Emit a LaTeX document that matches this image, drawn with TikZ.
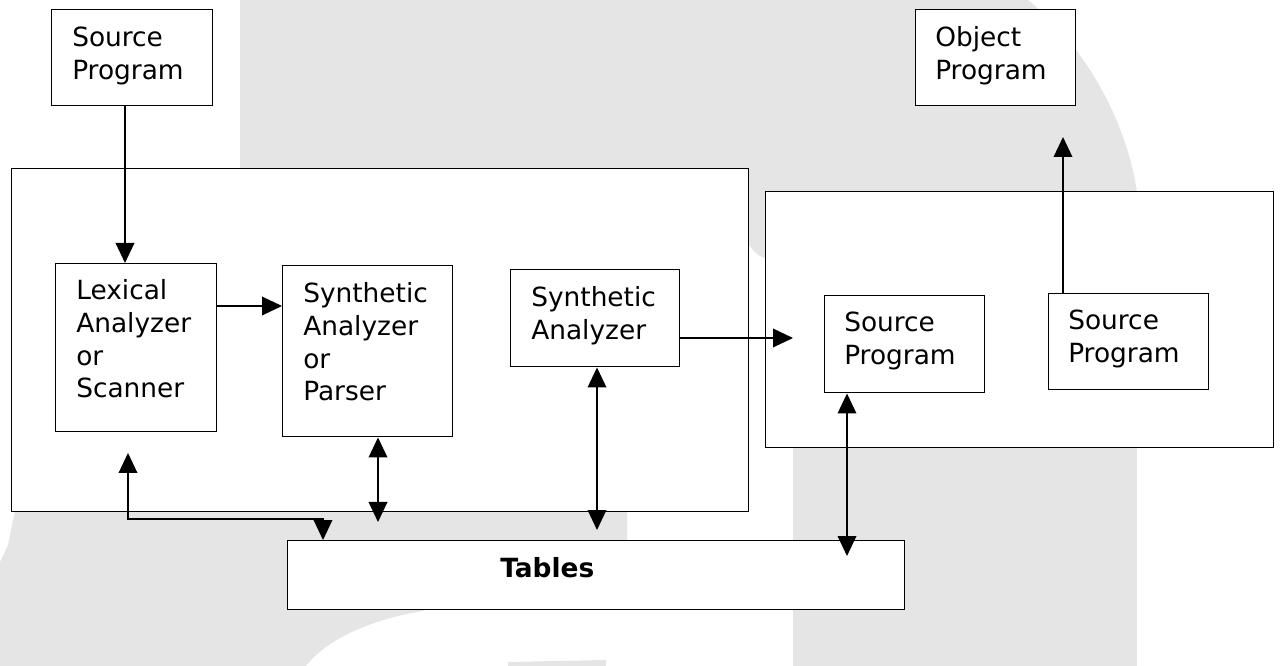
\documentclass[tikz,border=0pt]{standalone}
\usepackage{fontspec}
\setmainfont{DejaVu Sans}
\usetikzlibrary{arrows.meta,calc}
\definecolor{wmgrey}{RGB}{229,229,229}
\tikzset{tri/.tip={Triangle[length=15pt,width=14pt]}}
\begin{document}
\begin{tikzpicture}[x=0.75pt,y=-0.75pt,
  box/.style={draw=black, line width=1.1pt, fill=white, inner sep=0pt, anchor=north west},
  sz/.style 2 args={minimum width=#1*0.75pt, minimum height=#2*0.75pt},
  lbl/.style={inner sep=0pt, anchor=base west, align=left, text width=150pt,
    font=\fontsize{19.8}{24.4}\selectfont},
  conn/.style={line width=1pt}]
\useasboundingbox (0,0) rectangle (1282,666);

% light grey backdrop shapes
\fill[wmgrey] (240,0) -- (1028,0) .. controls (1090,50) and (1130,130) .. (1138,200)
  -- (1138,258) -- (765,258) .. controls (757,255) .. (748,244) -- (700,200) -- (240,168) -- cycle;
\fill[wmgrey] (15,511) -- (627,511) -- (627,600) -- (440,600) -- (423,611)
  .. controls (380,618) and (330,635) .. (306,666) -- (0,666) -- (0,562) -- (8,545) -- (12,525) -- cycle;
\fill[wmgrey] (793,440) rectangle (1137,666);
\fill[wmgrey] (508,662) -- (606,660) -- (606,666) -- (508,666) -- cycle;

% enclosing frames
\node[box, sz={737}{343}] (front) at (11,168) {};
\node[box, sz={508}{256}] (back) at (765,191) {};

% boxes
\node[box, sz={161}{96}] (src) at (51,9) {};
\node[box, sz={160}{96}] (obj) at (915,9) {};
\node[box, sz={161}{168}] (lex) at (55,263) {};
\node[box, sz={170}{171}] (par) at (282,265) {};
\node[box, sz={169}{97}] (syn) at (510,269) {};
\node[box, sz={160}{97}] (sp1) at (824,295) {};
\node[box, sz={160}{96}] (sp2) at (1048,293) {};
\node[box, sz={617}{69}] (tab) at (287,540) {};

% labels
\node[lbl] (src-t) at (72,47) {Source\\Program};
\node[lbl] (obj-t) at (935,47) {Object\\Program};
\node[lbl] (lex-t) at (76,300) {Lexical\\Analyzer\\or\\Scanner};
\node[lbl] (par-t) at (303,303) {Synthetic\\Analyzer\\or\\Parser};
\node[lbl] (syn-t) at (531,307) {Synthetic\\Analyzer};
\node[lbl] (sp1-t) at (844,332) {Source\\Program};
\node[lbl] (sp2-t) at (1068,330) {Source\\Program};
\node[lbl, font=\fontsize{19.8}{24.4}\selectfont\bfseries] (tab-t) at (500,577) {Tables};

% connector ends
\coordinate (srcx) at (125,0);
\coordinate (lpy) at (0,306);
\coordinate (synend) at (793,338);
\coordinate (objend) at (1063,137);
\coordinate (parlow) at (378,522);
\coordinate (synlow) at (597,530);
\coordinate (sp1low) at (847,556);
\coordinate (lexup) at (128,453);
\coordinate (bend) at (128,519);

% connectors
\draw[conn,-tri] (srcx |- src.south) -- (srcx |- lex.north);
\draw[conn,-tri] (lex.east |- lpy) -- (par.west |- lpy);
\draw[conn,-tri] (syn.east |- synend) -- (synend);
\draw[conn,-tri] (objend |- sp2.north) -- (objend);
\draw[conn,tri-tri] (parlow |- par.south) -- (parlow);
\draw[conn,tri-tri] (synlow |- syn.south) -- (synlow);
\draw[conn,tri-tri] (sp1low |- sp1.south) -- (sp1low);
\draw[conn,tri-tri] (lexup) -- (bend) -| ($(tab.north west)+(36,0)$);
\end{tikzpicture}
\end{document}
